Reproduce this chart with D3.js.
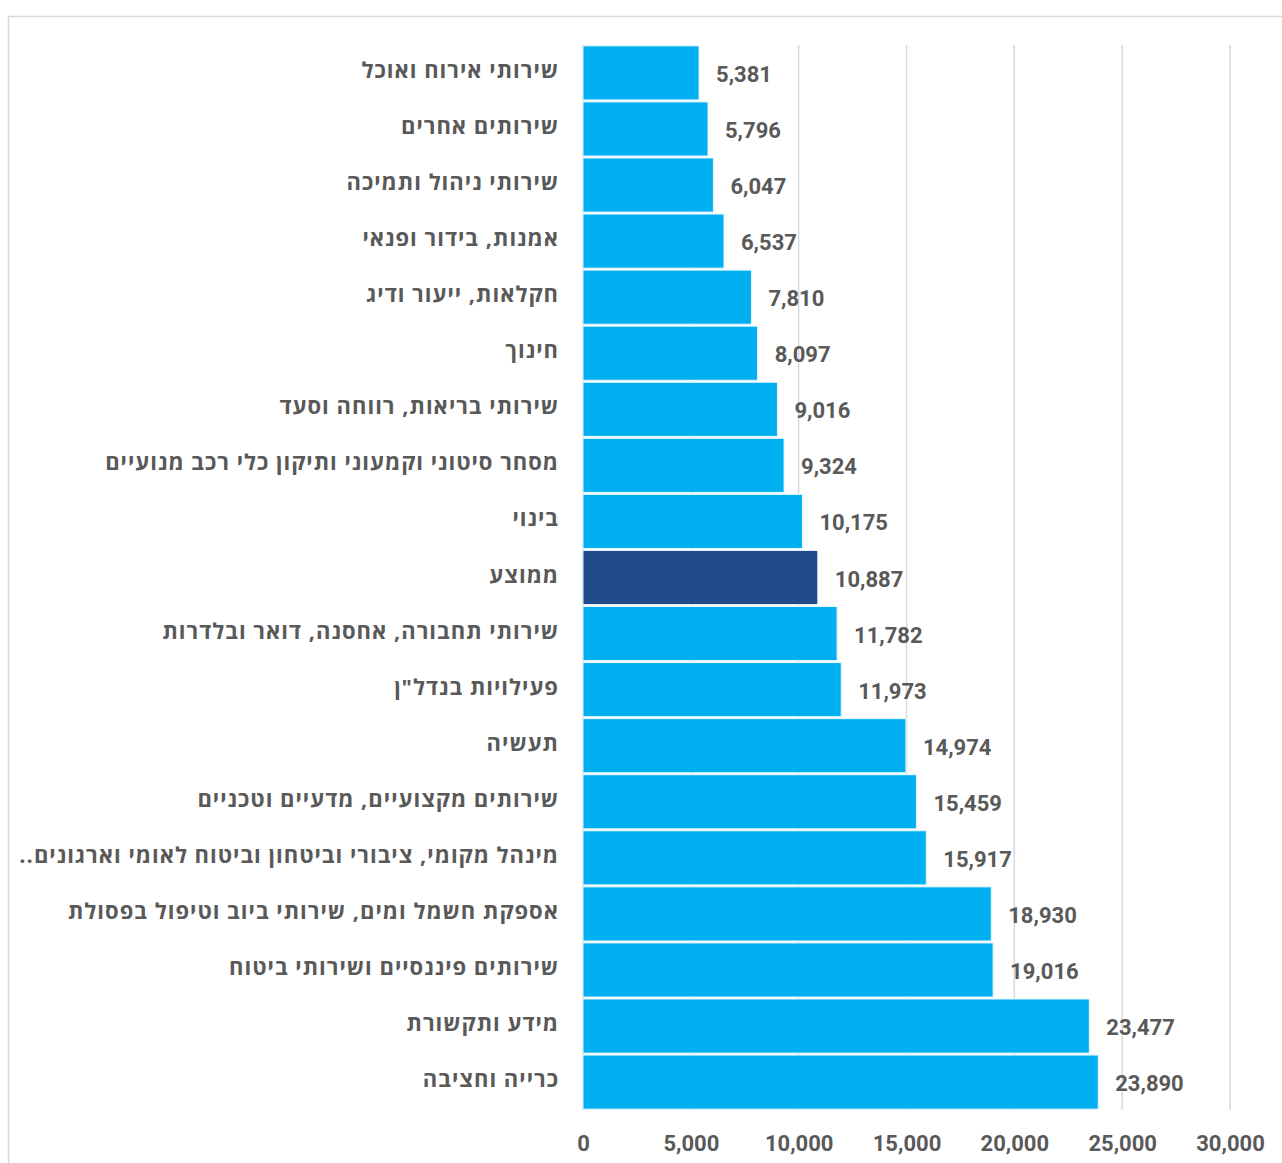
<!DOCTYPE html>
<html lang="he">
<head>
<meta charset="utf-8">
<style>
body {
  margin: 0;
  background: #fff;
}
.frame {
  fill: none;
  stroke: #d9d9d9;
  stroke-width: 1.5;
}
.grid line {
  stroke: #d9d9d9;
  stroke-width: 1.5;
}
.bar {
  stroke: #e6f6fd;
  stroke-width: 1;
}
.cat {
  fill: #595959;
  font-family: 'Open Sans', sans-serif;
  font-weight: 700;
  font-size: 22px;
  letter-spacing: 1px;
}
.val, .tick-label {
  fill: #595959;
  font-family: Roboto, 'Open Sans', sans-serif;
  font-weight: 700;
  font-size: 22px;
}
</style>
<script src="https://cdn.jsdelivr.net/npm/d3@7"></script>
</head>
<body>
<div id="chart"></div>
<script>

var w = 1282,
    h = 1163;

// categories top -> bottom
var categories = [
  "שירותי אירוח ואוכל",
  "שירותים אחרים",
  "שירותי ניהול ותמיכה",
  "אמנות, בידור ופנאי",
  "חקלאות, ייעור ודיג",
  "חינוך",
  "שירותי בריאות, רווחה וסעד",
  "מסחר סיטוני וקמעוני ותיקון כלי רכב מנועיים",
  "בינוי",
  "ממוצע",
  "שירותי תחבורה, אחסנה, דואר ובלדרות",
  "פעילויות בנדל\"ן",
  "תעשיה",
  "שירותים מקצועיים, מדעיים וטכניים",
  "מינהל מקומי, ציבורי וביטחון וביטוח לאומי וארגונים..",
  "אספקת חשמל ומים, שירותי ביוב וטיפול בפסולת",
  "שירותים פיננסיים ושירותי ביטוח",
  "מידע ותקשורת",
  "כרייה וחציבה"
];

var values = [5381, 5796, 6047, 6537, 7810, 8097, 9016, 9324, 10175, 10887,
              11782, 11973, 14974, 15459, 15917, 18930, 19016, 23477, 23890];

var ticks = [0, 5000, 10000, 15000, 20000, 25000, 30000];

var highlight = "ממוצע";

var svg = d3.select("#chart").append("svg")
    .attr("width", w)
    .attr("height", h);

// outer frame (only top/left visible in the picture)
svg.append("rect")
    .attr("class", "frame")
    .attr("x", 8.5)
    .attr("y", 16.5)
    .attr("width", w + 20)
    .attr("height", h + 20);

var x = d3.scaleLinear()
    .domain([0, 30000])
    .range([583, 1230]);

var y = d3.scaleBand()
    .domain(categories)
    .range([45, 1110])
    .paddingInner(0.035)
    .paddingOuter(0.015);

// vertical gridlines
svg.append("g")
    .attr("class", "grid")
    .selectAll("line")
    .data(ticks)
    .enter()
    .append("line")
    .attr("x1", function(d){ return x(d); })
    .attr("x2", function(d){ return x(d); })
    .attr("y1", 45)
    .attr("y2", 1110);

// bars
svg.selectAll("rect.bar")
    .data(categories)
    .enter()
    .append("rect")
    .attr("class", "bar")
    .attr("x", x(0))
    .attr("y", function(d){ return y(d); })
    .attr("width", function(d, i){ return x(values[i]) - x(0); })
    .attr("height", y.bandwidth())
    .style("fill", function(d){ return d == highlight ? "#1f4b8c" : "#00b0f0"; });

// value labels
svg.selectAll("text.val")
    .data(categories)
    .enter()
    .append("text")
    .attr("class", "val")
    .attr("x", function(d, i){ return x(values[i]) + 17; })
    .attr("y", function(d){ return y(d) + y.bandwidth() / 2 + 9; })
    .text(function(d, i){ return d3.format(",")(values[i]); });

// category labels (rtl, right aligned)
svg.selectAll("text.cat")
    .data(categories)
    .enter()
    .append("text")
    .attr("class", "cat")
    .attr("direction", "rtl")
    .attr("text-anchor", "start")
    .attr("x", 559)
    .attr("y", function(d){ return y(d) + y.bandwidth() / 2 + 5; })
    .text(function(d){ return d; });

// x axis tick labels
var xAxis = d3.axisBottom(x)
    .tickValues(ticks)
    .tickSize(0)
    .tickPadding(0)
    .tickFormat(d3.format(","));

var ax = svg.append("g")
    .attr("transform", "translate(0,1135)")
    .call(xAxis);
ax.select(".domain").remove();
ax.selectAll("text")
    .attr("class", "tick-label")
    .attr("font-family", null)
    .attr("font-size", null)
    .attr("fill", null);

</script>
</body>
</html>
